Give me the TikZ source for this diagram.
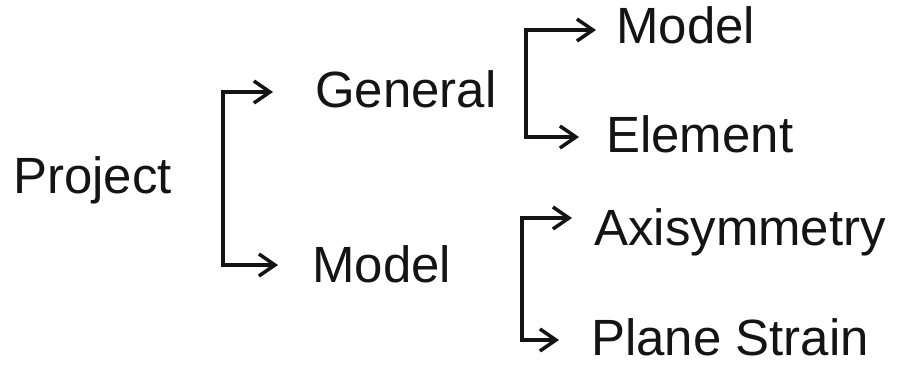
\documentclass[tikz,border=0pt]{standalone}
\usepackage{fontspec}
\setmainfont{Liberation Sans}
\usepackage{xcolor}
\usepackage{tikz}
\usetikzlibrary{arrows.meta}
\definecolor{ink}{RGB}{20,20,20}
\tikzset{
  word/.style={anchor=base west, inner sep=0pt, text=ink,
               font=\fontsize{29}{35}\selectfont},
  bracket/.style={draw=ink, line width=2pt, line join=miter,
                  {Straight Barb[length=3.2mm,width=4.4mm]}-{Straight Barb[length=3.2mm,width=4.4mm]}}
}

\begin{document}
\begin{tikzpicture}[x=0.02cm, y=-0.02cm]
  \useasboundingbox (0,0) rectangle (918,369);
  % words, placed at their baselines
  \node[word] (project) at (13,193) {Project};
  \node[word] (general) at (315,107) {General};
  \node[word] (model) at (312,282) {Model};
  \node[word] (genmodel) at (616,43) {Model};
  \node[word] (element) at (606,152) {Element};
  \node[word] (axisym) at (594,245) {Axisymmetry};
  \node[word] (plane) at (591,355) {Plane Strain};
  % bracket corners
  \coordinate (pjtop) at (223,92);  \coordinate (pjbot) at (223,265);
  \coordinate (gntop) at (526,30);  \coordinate (gnbot) at (526,137);
  \coordinate (mdtop) at (522,218); \coordinate (mdbot) at (522,340);
  \draw[bracket, shorten <=0.84cm, shorten >=0.68cm]
    (pjtop -| general.west) -- (pjtop) -- (pjbot) -- (pjbot -| model.west);
  \draw[bracket, shorten <=0.40cm, shorten >=0.54cm]
    (gntop -| genmodel.west) -- (gntop) -- (gnbot) -- (gnbot -| element.west);
  \draw[bracket, shorten <=0.44cm, shorten >=0.64cm]
    (mdtop -| axisym.west) -- (mdtop) -- (mdbot) -- (mdbot -| plane.west);
\end{tikzpicture}
\end{document}
